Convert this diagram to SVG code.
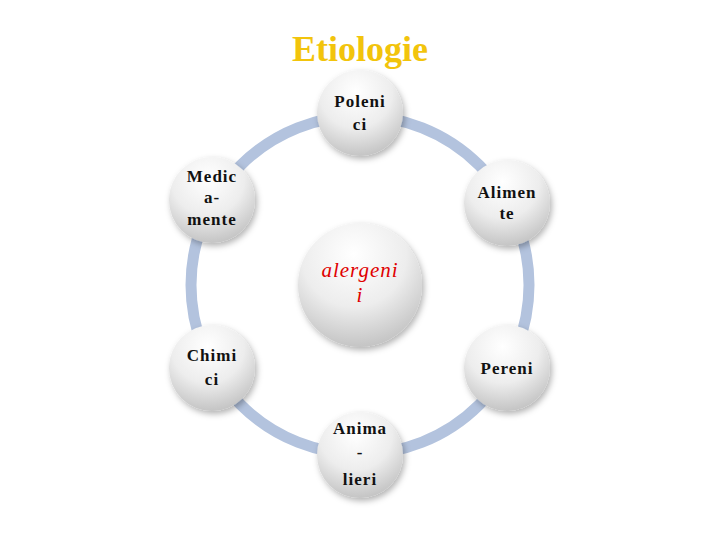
<svg xmlns="http://www.w3.org/2000/svg" width="720" height="540" viewBox="0 0 720 540">
<defs>
<radialGradient id="g" cx="0.45" cy="0.25" r="0.85">
<stop offset="0" stop-color="#ffffff"/><stop offset="0.5" stop-color="#ededed"/><stop offset="1" stop-color="#b8b8b8"/>
</radialGradient>
<filter id="sh" x="-20%" y="-20%" width="150%" height="150%"><feDropShadow dx="2" dy="3" stdDeviation="3" flood-color="#000" flood-opacity="0.3"/></filter>
</defs>
<style>
.n{fill:url(#g);filter:url(#sh)}
.t{font-family:"Liberation Serif",serif;font-size:17px;font-weight:bold;text-anchor:middle;fill:#111;letter-spacing:1px}
.r{fill:#e00000;font-style:italic;font-size:21px;font-weight:normal}
</style>
<rect width="720" height="540" fill="#fff"/>
<text x="360" y="61" font-family="Liberation Serif,serif" font-size="36" font-weight="bold" fill="#f2c40c" text-anchor="middle">Etiologie</text>
<g id="connectors"><circle cx="360" cy="285" r="169" fill="none" stroke="#b3c3de" stroke-width="11"/></g>
<g id="center"><circle class="n" cx="360" cy="285" r="62"/><text class="t r" x="360" y="277">alergeni</text><text class="t r" x="360" y="302">i</text></g>
<g id="poleni"><circle class="n" cx="360" cy="113" r="43"/><text class="t" x="360" y="107">Poleni</text><text class="t" x="360" y="130">ci</text></g>
<g id="alimente"><circle class="n" cx="507" cy="203" r="43"/><text class="t" x="507" y="198">Alimen</text><text class="t" x="507" y="219">te</text></g>
<g id="pereni"><circle class="n" cx="507" cy="368" r="43"/><text class="t" x="507" y="374">Pereni</text></g>
<g id="animalieri"><circle class="n" cx="360" cy="455" r="43"/><text class="t" x="360" y="434">Anima</text><text class="t" x="360" y="458">-</text><text class="t" x="360" y="485">lieri</text></g>
<g id="chimici"><circle class="n" cx="212" cy="368" r="43"/><text class="t" x="212" y="361">Chimi</text><text class="t" x="212" y="385">ci</text></g>
<g id="medicamente"><circle class="n" cx="212" cy="200" r="43"/><text class="t" x="212" y="182">Medic</text><text class="t" x="212" y="203">a-</text><text class="t" x="212" y="225">mente</text></g>
</svg>
